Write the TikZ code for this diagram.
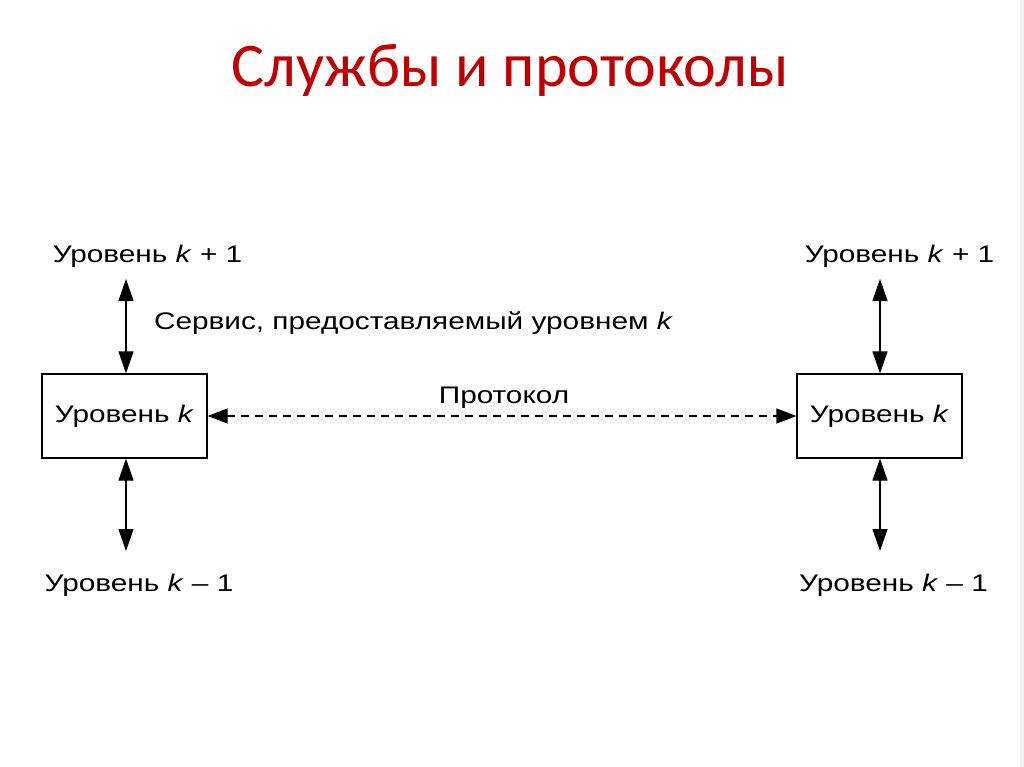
\documentclass[tikz,border=0pt]{standalone}
\usepackage{fontspec}
\setmainfont{Liberation Sans}[FakeStretch=1.24]
\newfontfamily\titlefont{Carlito}
\usetikzlibrary{arrows.meta}
\definecolor{titlered}{HTML}{C00000}
\tikzset{
  lbl/.style={font=\fontsize{24}{28}\selectfont, inner sep=0pt, anchor=base},
  layer/.style={draw, line width=1.2pt, minimum width=165pt, minimum height=84pt, inner sep=0pt, font=\fontsize{24}{28}\selectfont},
  dbl/.style={line width=1.2pt, {Triangle[length=22pt,width=15pt]}-{Triangle[length=22pt,width=15pt]}},
  proto/.style={line width=1.2pt, dash pattern=on 8pt off 6pt, {Triangle[length=20pt,width=15pt]}-{Triangle[length=20pt,width=15pt]}}
}
\begin{document}
\begin{tikzpicture}[x=1pt,y=-1pt]
\useasboundingbox (0,0) rectangle (1024,767);
\fill[white] (0,0) rectangle (1024,767);
\fill[black!5] (1020,0) rectangle (1024,767);
\node[font=\titlefont\fontsize{62}{72}\selectfont, text=titlered, anchor=base, inner sep=0pt] (title) at (510,87) {Службы и протоколы};
% boxes
\node[layer] (Lk) at (124.5,416) {Уровень \textit{k}};
\node[layer] (Rk) at (879.5,416) {Уровень \textit{k}};
% labels
\node[lbl] (Lup) at (147.5,262) {Уровень \textit{k} + 1};
\node[lbl] (Ldn) at (139,591) {Уровень \textit{k} – 1};
\node[lbl] (Rup) at (899.5,262) {Уровень \textit{k} + 1};
\node[lbl] (Rdn) at (893.5,591) {Уровень \textit{k} – 1};
\node[lbl] (serv) at (413.5,329) {Сервис, предоставляемый уровнем \textit{k}};
\node[lbl] (prot) at (504,403) {Протокол};
% arrow ends
\coordinate (Lupend) at (126,279);
\coordinate (Ldnend) at (126,551);
\coordinate (Rupend) at (880,279);
\coordinate (Rdnend) at (880,551);
\draw[dbl] (Lupend) -- (Lupend |- Lk.north);
\draw[dbl] (Lk.south -| Ldnend) -- (Ldnend);
\draw[dbl] (Rupend) -- (Rupend |- Rk.north);
\draw[dbl] (Rk.south -| Rdnend) -- (Rdnend);
\draw[proto] (Lk.east) -- (Rk.west);
\end{tikzpicture}
\end{document}
